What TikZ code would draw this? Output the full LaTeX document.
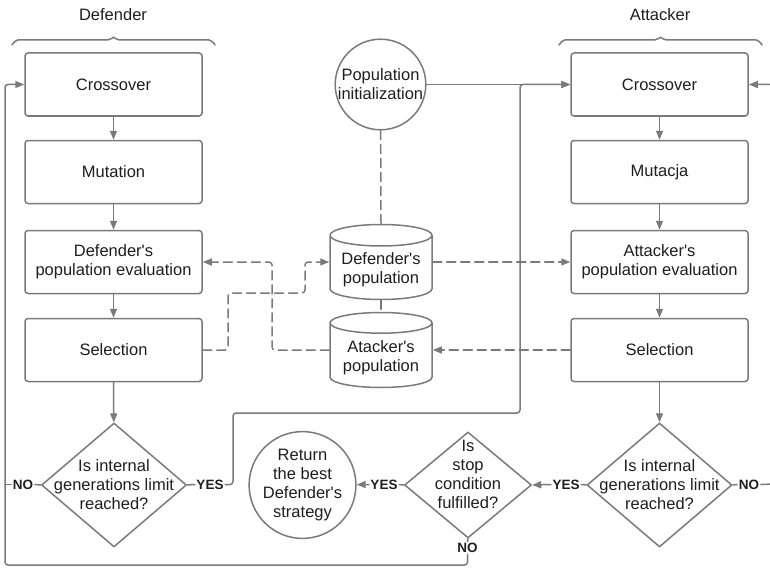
\documentclass[tikz,border=0pt]{standalone}
\usepackage{fontspec}
\setmainfont{Liberation Sans}
\usetikzlibrary{arrows.meta,shapes.geometric,decorations.pathreplacing}
\definecolor{linegray}{RGB}{122,122,122}
\definecolor{txt}{RGB}{30,30,30}
\newcommand{\ap}{\textquotesingle}
\begin{document}
\begin{tikzpicture}[x=1pt, y=-1pt, font=\fontsize{16.5}{19}\selectfont, line join=round, line cap=round,
	every node/.style={text=txt},
	line/.style={draw=linegray, line width=1.5pt},
	arr/.style={line, -{Triangle[length=9pt,width=7pt]}},
	darr/.style={arr, dash pattern=on 9pt off 5pt},
	dline/.style={line, dash pattern=on 9pt off 5pt},
	box/.style={line, rectangle, rounded corners=3pt, minimum width=177pt, minimum height=63pt, align=center},
	decision/.style={line, diamond, inner sep=0pt, minimum width=145pt, minimum height=124pt},
	circ/.style={line, circle, inner sep=0pt, minimum size=#1, align=center},
	base/.style={line, cylinder, shape border rotate=90, aspect=0.25, minimum width=102pt, minimum height=75pt, align=center, anchor=shape center},
	lbl/.style={font=\fontsize{13.5}{15}\selectfont\bfseries, inner sep=1.5pt}]
	\useasboundingbox (0,0) rectangle (770,567);
	%%%%%%%%%%%%%%%%%%%%%%%%%%%%%%%%%
	\coordinate (bendA) at (272,350);
	\coordinate (bendB) at (228,293);
	\coordinate (bendC) at (305,262);
	\coordinate (jy) at (233,413);
	\coordinate (jx) at (520,413);
	\coordinate (loopL) at (5,565);
	\coordinate (loopR) at (773,484);
	%%%%%%%%%%%%%%%%%%%%%%%%%%%%%%%%%
	\node (dtitle) at (113,15) {Defender};
	\node (atitle) at (660,15) {Attacker};
	\draw[line, rounded corners=4pt, decorate, decoration={brace, amplitude=10pt}] (12,45) -- (215,45);
	\draw[line, rounded corners=4pt, decorate, decoration={brace, amplitude=10pt}] (559,45) -- (762,45);
	%%%%%%%%%%%%%%%%%%%%%%%%%%%%%%%%%
	\node[box] (dcross) at (113.5,84.5) {Crossover};
	\node[box] (dmut) at (113.5,172) {Mutation};
	\node[box] (deval) at (113.5,262) {Defender\ap s\\population evaluation};
	\node[box] (dsel) at (113.5,350) {Selection};
	\node[decision] (dlim) at (114,485) {};
	\node[align=center] at (dlim) {Is internal\\generations limit\\reached?};
	%%%%%%%%%%%%%%%%%%%%%%%%%%%%%%%%%
	\node[box] (across) at (659.5,84.5) {Crossover};
	\node[box] (amut) at (659.5,172) {Mutacja};
	\node[box] (aeval) at (659.5,262) {Attacker\ap s\\population evaluation};
	\node[box] (asel) at (659.5,350) {Selection};
	\node[decision] (alim) at (659.5,485) {};
	\node[align=center] at (alim) {Is internal\\generations limit\\reached?};
	%%%%%%%%%%%%%%%%%%%%%%%%%%%%%%%%%
	\node[circ=88pt] (init) at (380.5,84.5) {Population\\initialization};
	\node[base] (dpop) at (381,262) {Defender\ap s\\population};
	\node[base] (apop) at (381,350) {Atacker\ap s\\population};
	\node[line, diamond, inner sep=0pt, minimum width=127pt, minimum height=106pt] (stop) at (468,485) {};
	\node[align=center] at (468,474) {Is\\stop\\condition\\fulfilled?};
	\node[circ=100pt] (ret) at (302.5,485) {Return\\the best\\Defender\ap s\\strategy};
	%%%%%%%%%%%%%%%%%%%%%%%%%%%%%%%%%
	\node[lbl] (noL) at (23,484.5) {NO};
	\node[lbl] (yesL) at (210,484.5) {YES};
	\node[lbl] (yesR) at (566,484.5) {YES};
	\node[lbl] (noR) at (749,484.5) {NO};
	\node[lbl] (yesS) at (384,484.5) {YES};
	\node[lbl] (noS) at (467.5,548) {NO};
	%%%%%%%%%%%%%%%%%%%%%%%%%%%%%%%%%
	\draw[arr] (dcross) -- (dmut);
	\draw[arr] (dmut) -- (deval);
	\draw[arr] (deval) -- (dsel);
	\draw[arr] (dsel) -- (dlim);
	\draw[arr] (across) -- (amut);
	\draw[arr] (amut) -- (aeval);
	\draw[arr] (aeval) -- (asel);
	\draw[arr] (asel) -- (alim);
	\draw[arr] (init) -- (across);
	%%%%%%%%%%%%%%%%%%%%%%%%%%%%%%%%%
	\draw[line] (dlim.west) -- (noL.east);
	\draw[line] (noL.west) -- (noL.west -| loopL);
	\draw[line] (dlim.east) -- (yesL.west);
	\draw[arr, rounded corners=3pt] (yesL.east) -| (jy) -- (jx) |- (across.west);
	\draw[line] (alim.west) -- (yesR.east);
	\draw[arr] (yesR.west) -- (stop.east);
	\draw[line] (alim.east) -- (noR.west);
	\draw[arr, rounded corners=3pt] (noR.east) -- (loopR) |- (across.east);
	\draw[line] (stop.west) -- (yesS.east);
	\draw[arr] (yesS.west) -- (ret);
	\draw[line] (stop.south) -- (noS.north);
	\draw[arr, rounded corners=3pt] (noS.south) |- (loopL) |- (dcross.west);
	%%%%%%%%%%%%%%%%%%%%%%%%%%%%%%%%%
	\begin{scope}[rounded corners=3pt]
		\draw[dline] (init) -- (dpop.top);
		\draw[dline] (dpop.bottom) -- (apop.top);
		\draw[darr] (apop.shape center -| apop.west) -- (bendA) |- (deval.east);
		\draw[darr] (dsel.east) -| (bendB) -| (bendC) -- (dpop.shape center -| dpop.west);
		\draw[darr] (dpop.shape center -| dpop.east) -- (aeval.west);
		\draw[darr] (asel.west) -- (apop.shape center -| apop.east);
	\end{scope}
	%%%%%%%%%%%%%%%%%%%%%%%%%%%%%%%%%
\end{tikzpicture}
\end{document}
